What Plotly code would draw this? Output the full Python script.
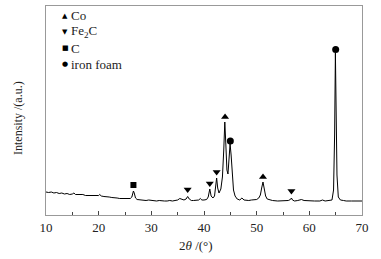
import plotly.graph_objects as go

# XRD pattern (2theta in degrees, intensity in arbitrary units)
two_theta = [10.0, 10.5, 11.0, 11.5, 12.0, 12.5, 13.0, 13.5, 14.0, 14.5, 15.0, 15.3, 15.6, 16.0, 16.5,
             17.0, 17.5, 18.0, 18.5, 19.0, 19.5, 20.0, 20.2, 20.5, 21.0, 21.5, 22.0, 22.5, 23.0, 23.5,
             24.0, 24.5, 25.0, 25.5, 26.0, 26.3, 26.5, 26.6, 26.75, 27.0, 27.3, 27.8, 28.5, 29.0, 29.5,
             30.0, 30.5, 31.0, 31.5, 32.0, 32.5, 33.0, 33.5, 34.0, 34.5, 35.0, 35.4, 35.7, 36.2, 36.6,
             36.9, 37.2, 37.6, 38.0, 38.5, 39.0, 39.3, 39.6, 40.0, 40.5, 40.8, 41.1, 41.35, 41.7, 42.0,
             42.2, 42.4, 42.6, 42.85, 43.2, 43.5, 43.75, 43.95, 44.15, 44.35, 44.55, 44.75, 44.95, 45.15,
             45.35, 45.6, 45.9, 46.3, 46.8, 47.2, 47.6, 48.0, 48.5, 49.0, 49.5, 50.0, 50.4, 50.7, 50.95,
             51.2, 51.45, 51.7, 52.0, 52.5, 53.0, 54.0, 55.0, 55.5, 56.0, 56.4, 56.6, 56.8, 57.2, 57.8,
             58.5, 59.0, 60.0, 61.0, 62.0, 62.5, 63.0, 63.8, 64.3, 64.6, 64.8, 64.95, 65.1, 65.25, 65.5,
             65.9, 66.5, 67.0, 68.0, 69.0, 69.5, 70.0]
intensity = [23, 22.5, 23, 22, 22.5, 21.5, 22, 21, 21.5, 20.5, 21, 22, 20.5, 20.5, 20,
             20.5, 19.5, 19.5, 19, 19.5, 19, 19.5, 20.5, 19, 18.5, 18.5, 18, 17.5, 17.5, 17,
             16.5, 16.5, 16.5, 16, 16.5, 18, 22, 24, 22, 17, 15.5, 15, 15, 14.5, 15,
             14.5, 14.5, 14, 14.5, 14, 14, 14, 14.5, 14, 14.5, 15, 16.5, 16, 15, 16,
             18.5, 16, 14.5, 14.5, 14.5, 15, 16.5, 15, 15, 15.5, 18, 26, 19, 17, 19,
             26, 37, 27, 22, 26, 38, 65, 93, 70, 45, 41, 55, 71, 60,
             38, 25, 19, 16, 15, 17, 15, 14.5, 14.5, 15, 15, 15.5, 17, 20, 27,
             33, 26, 19, 16, 15, 14.5, 14, 14, 14, 14.5, 15.5, 17, 15, 14, 14.5,
             15.5, 14.5, 14, 14, 14, 15, 14, 14.5, 15, 25, 80, 162, 110, 40, 18,
             15, 14.5, 14, 14, 14, 13.5, 14]

# Phase marker positions
co_x, co_y = [44.0, 51.2], [98, 38]
fe2c_x, fe2c_y = [36.9, 41.1, 42.4, 56.6], [25.5, 31.5, 43, 24]
c_x, c_y = [26.6], [30]
foam_x, foam_y = [45.0, 65.0], [74, 165.5]

x_ticks = [10, 20, 30, 40, 50, 60, 70]

legend_names = ["Co", "Fe<sub>2</sub>C", "C", "iron foam"]
legend_glyphs = ["▲", "▼", "■", "●"]

FONT = "Liberation Serif, Times New Roman, serif"

fig = go.Figure()
fig.add_trace(go.Scatter(x=two_theta, y=intensity, mode="lines",
                         line=dict(color="black", width=1), showlegend=False))
fig.add_trace(go.Scatter(x=co_x, y=co_y, mode="markers", showlegend=False,
                         marker=dict(symbol="triangle-up", size=7, color="black")))
fig.add_trace(go.Scatter(x=fe2c_x, y=fe2c_y, mode="markers", showlegend=False,
                         marker=dict(symbol="triangle-down", size=7, color="black")))
fig.add_trace(go.Scatter(x=c_x, y=c_y, mode="markers", showlegend=False,
                         marker=dict(symbol="square", size=6, color="black")))
fig.add_trace(go.Scatter(x=foam_x, y=foam_y, mode="markers", showlegend=False,
                         marker=dict(symbol="circle", size=7, color="black")))

# plot area in pixels: x 46..362, y 6..215
L, R, T, B = 46, 362, 6, 215
W, H = R - L, B - T
legend_rows_px = [15.7, 32, 48, 64]
annotations = []
for name, glyph, ypx in zip(legend_names, legend_glyphs, legend_rows_px):
    yp = (B - ypx) / H
    annotations.append(dict(x=(65 - L) / W, y=yp, xref="paper", yref="paper",
                            text=glyph, showarrow=False, xanchor="center", yanchor="middle",
                            font=dict(family="DejaVu Sans", size=7, color="black")))
    annotations.append(dict(x=(69 - L) / W, y=yp, xref="paper", yref="paper",
                            text=name, showarrow=False, xanchor="left", yanchor="middle",
                            font=dict(family=FONT, size=13, color="#222")))
annotations.append(dict(x=(196 - L) / W, y=-(245 - B) / H, xref="paper", yref="paper",
                        text="2<i>θ</i> /(°)", showarrow=False, xanchor="center", yanchor="middle",
                        font=dict(family=FONT, size=13, color="#222")))
annotations.append(dict(x=-(L - 18) / W, y=(B - 118) / H, xref="paper", yref="paper",
                        text="Intensity /(a.u.)", textangle=-90, showarrow=False,
                        xanchor="center", yanchor="middle",
                        font=dict(family=FONT, size=12, color="#222")))

fig.update_layout(
    width=381, height=259,
    margin=dict(l=L, r=381 - R, t=T, b=259 - B),
    paper_bgcolor="white", plot_bgcolor="white",
    font=dict(family=FONT, size=13, color="#222"),
    showlegend=False,
    annotations=annotations,
    xaxis=dict(range=[10, 70], tickvals=x_ticks, ticks="inside", ticklen=4,
               tickcolor="#444", showline=True, linecolor="#999", linewidth=1,
               mirror=True, showgrid=False, zeroline=False, automargin=False,
               minor=dict(dtick=5, tick0=10, ticks="inside", ticklen=3, tickcolor="#444"),
               tickfont=dict(size=13, family=FONT, color="#222")),
    yaxis=dict(range=[0, 209], showticklabels=False, ticks="", showline=True,
               linecolor="#999", linewidth=1, mirror=True, showgrid=False,
               zeroline=False, automargin=False),
)

fig.write_html("out.html", config={"displayModeBar": False},
               post_script="document.body.style.margin='0px';")
